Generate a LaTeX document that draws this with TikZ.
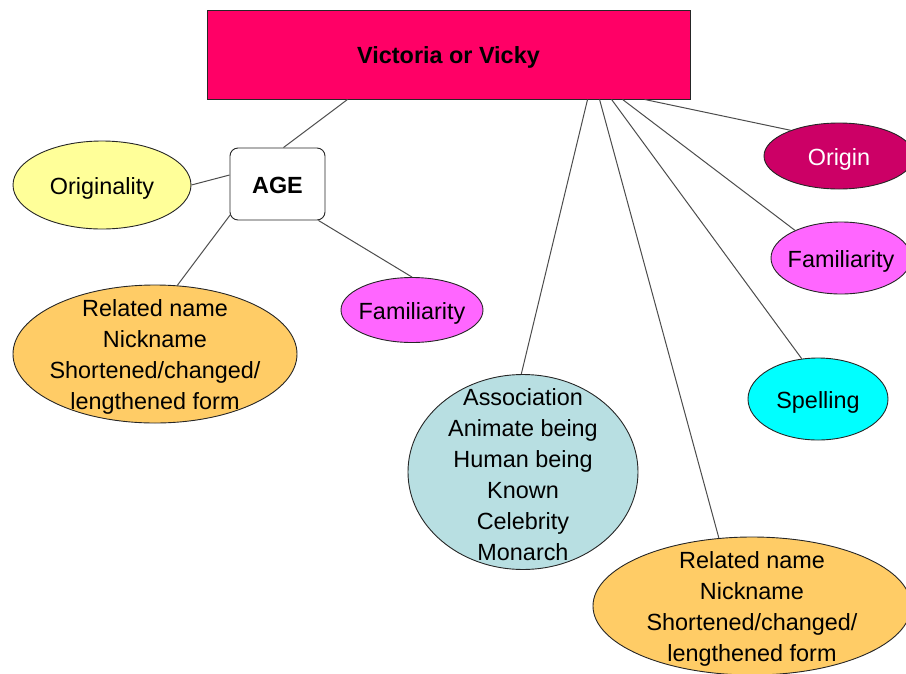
\documentclass[tikz,border=0pt]{standalone}
\usepackage{fontspec}
\setmainfont{Liberation Sans}
\usetikzlibrary{shapes.geometric,calc}
\definecolor{titlered}{HTML}{FF0066}
\definecolor{origincol}{HTML}{CC0066}
\definecolor{pinkcol}{HTML}{FF66FF}
\definecolor{yellowcol}{HTML}{FFFF99}
\definecolor{orangecol}{HTML}{FFCC66}
\definecolor{tealcol}{HTML}{B8DFE2}
\definecolor{cyancol}{HTML}{00FFFF}
\begin{document}
\begin{tikzpicture}[x=1pt,y=-1pt,
  every node/.style={font=\fontsize{23.4}{31}\selectfont},
  bubble/.style={ellipse, draw=black!85, line width=0.9pt, inner sep=0pt},
  caption/.style={align=center, inner sep=0pt, yshift=-3pt},
  heading/.style={caption, font=\fontsize{23.4}{31}\selectfont\bfseries},
  link/.style={draw=black!70, line width=1pt}]
\useasboundingbox (0,0) rectangle (906,673);
\clip (0,0) rectangle (906,673);

% central title and the AGE box
\node[draw=black!85, line width=0.9pt, fill=titlered, minimum width=483, minimum height=89, inner sep=0pt]
  (title) at (448.5,54.5) {};
\node[heading] (title-t) at (title) {Victoria or Vicky};
\node[draw=black!85, line width=0.9pt, rounded corners=8pt, fill=white, minimum width=95, minimum height=72, inner sep=0pt]
  (age) at (277.5,184) {};
\node[heading, yshift=1.5pt] (age-t) at (age) {AGE};

% ellipses
\node[bubble, fill=yellowcol, minimum width=178, minimum height=88] (orig) at (102,185) {};
\node[caption] (orig-t) at (orig) {Originality};

\node[bubble, fill=pinkcol, minimum width=142, minimum height=65] (famL) at (412,310) {};
\node[caption] (famL-t) at (famL) {Familiarity};

\node[bubble, fill=orangecol, minimum width=284, minimum height=138] (relL) at (155,354) {};
\node[caption] (relL-t) at (relL) {Related name\\Nickname\\Shortened/changed/\\lengthened form};

\node[bubble, fill=tealcol, minimum width=230, minimum height=195] (assoc) at (523,472) {};
\node[caption] (assoc-t) at (assoc) {Association\\Animate being\\Human being\\Known\\Celebrity\\Monarch};

\node[bubble, fill=orangecol, minimum width=318, minimum height=138] (relR) at (752,606) {};
\node[caption] (relR-t) at (relR) {Related name\\Nickname\\Shortened/changed/\\lengthened form};

\node[bubble, fill=origincol, minimum width=150, minimum height=66] (origin) at (839,156) {};
\node[caption, text=white] (origin-t) at (origin) {Origin};

\node[bubble, fill=pinkcol, minimum width=140, minimum height=72] (famR) at (841,258) {};
\node[caption] (famR-t) at (famR) {Familiarity};

\node[bubble, fill=cyancol, minimum width=140, minimum height=82] (spell) at (818,399) {};
\node[caption] (spell-t) at (spell) {Spelling};

% connectors
\draw[link] ($(title.south west)+(141,0)$) -- ($(age.north)+(6,0)$);
\draw[link] (orig.0) -- ($(age.west)+(0,-9)$);
\draw[link] ($(age.south west)+(1,-6)$) -- (relL.72);
\draw[link] ($(age.south east)+(-7,0)$) -- (famL.90);

\draw[link] ($(title.south west)+(381,0)$) -- (assoc.91);
\draw[link] ($(title.south west)+(393,0)$) -- (relR.116);
\draw[link] ($(title.south west)+(405,0)$) -- (spell.112);
\draw[link] ($(title.south west)+(416,0)$) -- (famR.149);
\draw[link] ($(title.south west)+(438,0)$) -- (origin.152);
\end{tikzpicture}
\end{document}
